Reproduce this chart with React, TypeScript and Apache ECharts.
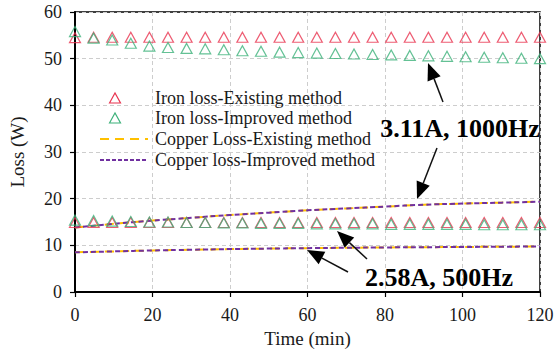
import React, { useEffect, useRef } from "react";
import * as echarts from "echarts";

// ---- data ----
const times = [0, 4.8, 9.6, 14.4, 19.2, 24, 28.8, 33.6, 38.4, 43.2, 48, 52.8, 57.6, 62.4, 67.2, 72, 76.8, 81.6, 86.4, 91.2, 96, 100.8, 105.6, 110.4, 115.2, 120];
const ironExisting1000 = [54.5, 54.6, 54.6, 54.6, 54.6, 54.6, 54.6, 54.6, 54.6, 54.6, 54.6, 54.6, 54.6, 54.6, 54.6, 54.6, 54.6, 54.6, 54.6, 54.6, 54.6, 54.6, 54.6, 54.6, 54.6, 54.6];
const ironImproved1000 = [55.8, 54.4, 54.0, 53.3, 52.7, 52.4, 52.2, 52.1, 51.9, 51.7, 51.6, 51.4, 51.3, 51.2, 51.1, 51.0, 50.9, 50.8, 50.7, 50.6, 50.5, 50.4, 50.3, 50.2, 50.1, 50.0];
const ironExisting500 = [14.9, 14.9, 14.9, 14.9, 14.9, 14.9, 14.9, 14.9, 14.9, 14.9, 14.9, 14.9, 14.9, 14.9, 14.9, 14.9, 14.9, 14.9, 14.9, 14.9, 14.9, 14.9, 14.9, 14.9, 14.9, 14.9];
const ironImproved500 = [15.4, 15.3, 15.2, 15.1, 15.0, 15.0, 14.9, 14.9, 14.8, 14.8, 14.7, 14.7, 14.7, 14.6, 14.6, 14.6, 14.6, 14.5, 14.5, 14.5, 14.5, 14.5, 14.4, 14.4, 14.4, 14.4];
const copperTimes = [0, 10, 20, 30, 40, 50, 60, 70, 80, 90, 100, 110, 120];
const copperExisting1000 = [13.8, 14.6, 15.3, 15.9, 16.5, 17.0, 17.5, 17.9, 18.3, 18.7, 18.95, 19.15, 19.35];
const copperImproved1000 = [13.8, 14.6, 15.3, 15.9, 16.5, 17.0, 17.5, 17.9, 18.3, 18.7, 18.95, 19.15, 19.35];
const copperExisting500 = [8.5, 8.7, 8.9, 9.05, 9.2, 9.3, 9.4, 9.48, 9.55, 9.6, 9.65, 9.7, 9.75];
const copperImproved500 = [8.5, 8.7, 8.9, 9.05, 9.2, 9.3, 9.4, 9.48, 9.55, 9.6, 9.65, 9.7, 9.75];

const legendNames = [
  "Iron loss-Existing method",
  "Iron loss-Improved method",
  "Copper Loss-Existing method",
  "Copper loss-Improved method",
];
const annotations = ["3.11A, 1000Hz", "2.58A, 500Hz"];

// ---- styles ----
const RED = "#E8334F";
const GREEN = "#3DB17A";
const ORANGE = "#FFC000";
const PURPLE = "#7030A0";
const SERIF = '"Liberation Serif", "Times New Roman", serif';

// arrow annotations in pixels: [tailX, tailY, tipX, tipY]
const arrows = [
  [443, 102, 428, 63],
  [437, 148, 417, 199],
  [367, 259, 337, 231],
  [348, 272, 307, 250],
];

function arrowGraphics() {
  const out: any[] = [];
  arrows.forEach(([x1, y1, x2, y2]) => {
    const dx = x2 - x1;
    const dy = y2 - y1;
    const len = Math.sqrt(dx * dx + dy * dy);
    const ux = dx / len;
    const uy = dy / len;
    const L = 17;
    const W = 7;
    const bx = x2 - ux * L;
    const by = y2 - uy * L;
    out.push({
      type: "line",
      shape: { x1, y1, x2: bx, y2: by },
      style: { stroke: "#111", lineWidth: 1.5 },
      z: 100,
    });
    out.push({
      type: "polygon",
      shape: {
        points: [
          [x2, y2],
          [bx - uy * W, by + ux * W],
          [bx + uy * W, by - ux * W],
        ],
      },
      style: { fill: "#000" },
      z: 100,
    });
  });
  return out;
}

function legendGraphics() {
  const rows = [98, 118, 139, 160];
  const out: any[] = [];
  const tri = (cx: number, cy: number, color: string) => ({
    type: "polygon",
    shape: { points: [[cx - 5.5, cy + 5], [cx, cy - 5], [cx + 5.5, cy + 5]] },
    style: { fill: "none", stroke: color, lineWidth: 1.2 },
    z: 100,
  });
  out.push(tri(115, rows[0], RED));
  out.push(tri(115, rows[1], GREEN));
  out.push({
    type: "line",
    shape: { x1: 100, y1: rows[2], x2: 148, y2: rows[2] },
    style: { stroke: ORANGE, lineWidth: 2, lineDash: [9, 6] },
    z: 100,
  });
  out.push({
    type: "line",
    shape: { x1: 100, y1: rows[3], x2: 148, y2: rows[3] },
    style: { stroke: PURPLE, lineWidth: 2, lineDash: [4, 2] },
    z: 100,
  });
  legendNames.forEach((name, i) => {
    out.push({
      type: "text",
      x: 155,
      y: rows[i],
      style: {
        text: name,
        font: `18px ${SERIF}`,
        fill: "#1a1a1a",
        verticalAlign: "middle",
        align: "left",
      },
      z: 100,
    });
  });
  return out;
}

function annotationGraphics() {
  const pos = [
    [460, 128],
    [439, 277],
  ];
  return annotations.map((t, i) => ({
    type: "text",
    x: pos[i][0],
    y: pos[i][1],
    style: {
      text: t,
      font: `bold 26px ${SERIF}`,
      fill: "#000",
      align: "center",
      verticalAlign: "middle",
    },
    z: 100,
  }));
}

const zip = (xs: number[], ys: number[]) => xs.map((x, i) => [x, ys[i]]);

export default function App() {
  const ref = useRef<HTMLDivElement>(null);
  useEffect(() => {
    if (!ref.current) return;
    const chart = echarts.init(ref.current, undefined, { renderer: "svg" });
    const scatter = (name: string, data: number[], color: string) => ({
      name,
      type: "scatter",
      data: zip(times, data),
      symbol: "triangle",
      symbolSize: [11, 10],
      itemStyle: { color: "rgba(0,0,0,0)", borderColor: color, borderWidth: 1.2 },
      z: 3,
    });
    const line = (name: string, data: number[], color: string, dash: number[], z: number) => ({
      name,
      type: "line",
      data: zip(copperTimes, data),
      smooth: true,
      showSymbol: false,
      symbol: "none",
      lineStyle: { color, width: 2, type: dash },
      z,
    });
    chart.setOption({
      animation: false,
      grid: {
        left: 73,
        top: 12,
        right: 17,
        bottom: 62,
        show: true,
        borderColor: "#000",
        borderWidth: 1.5,
        backgroundColor: "transparent",
      },
      xAxis: {
        type: "value",
        min: 0,
        max: 120,
        interval: 20,
        name: "Time (min)",
        nameLocation: "middle",
        nameGap: 31,
        nameTextStyle: { fontFamily: SERIF, fontSize: 19, color: "#1a1a1a" },
        axisLine: { show: true, lineStyle: { color: "#000", width: 2 } },
        axisTick: { show: true, inside: false, length: 5, lineStyle: { color: "#000", width: 1.2 } },
        axisLabel: { fontFamily: SERIF, fontSize: 18, color: "#1a1a1a", margin: 14 },
        splitLine: { show: true, lineStyle: { color: "#cdcdcd", type: [4, 3], width: 1 } },
      },
      yAxis: {
        type: "value",
        min: 0,
        max: 60,
        interval: 10,
        name: "Loss (W)",
        nameLocation: "middle",
        nameGap: 48,
        nameTextStyle: { fontFamily: SERIF, fontSize: 19, color: "#1a1a1a" },
        axisLine: { show: true, lineStyle: { color: "#000", width: 2 } },
        axisTick: { show: true, inside: false, length: 5, lineStyle: { color: "#000", width: 1.2 } },
        axisLabel: { fontFamily: SERIF, fontSize: 18, color: "#1a1a1a", margin: 13 },
        splitLine: { show: true, lineStyle: { color: "#cdcdcd", type: [4, 3], width: 1 } },
      },
      series: [
        line(legendNames[2], copperExisting1000, ORANGE, [9, 6], 2),
        line(legendNames[3], copperImproved1000, PURPLE, [5, 3], 2),
        line(legendNames[2], copperExisting500, ORANGE, [9, 6], 2),
        line(legendNames[3], copperImproved500, PURPLE, [5, 3], 2),
        scatter(legendNames[0], ironExisting1000, RED),
        scatter(legendNames[1], ironImproved1000, GREEN),
        scatter(legendNames[0], ironExisting500, RED),
        scatter(legendNames[1], ironImproved500, GREEN),
      ],
      graphic: [...legendGraphics(), ...annotationGraphics(), ...arrowGraphics()],
    });
    return () => chart.dispose();
  }, []);
  return (
    <div
      ref={ref}
      style={{ position: "fixed", left: 0, top: 0, width: 557, height: 354, background: "#fff" }}
    />
  );
}
